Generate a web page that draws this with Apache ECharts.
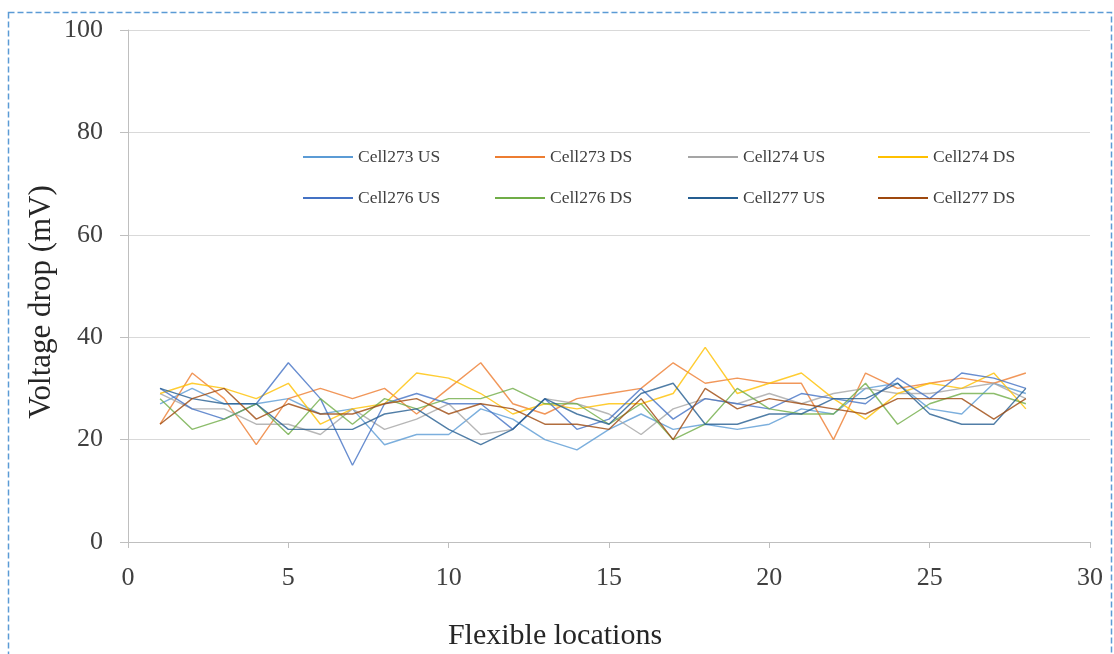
<!DOCTYPE html>
<html>
<head>
<meta charset="utf-8">
<script src="https://cdn.jsdelivr.net/npm/echarts@6/dist/echarts.min.js"></script>
<style>
html,body{margin:0;padding:0;background:#fff;}
#chart{width:1114px;height:654px;}
</style>
</head>
<body>
<div id="chart"></div>
<script>
var locations = [1,2,3,4,5,6,7,8,9,10,11,12,13,14,15,16,17,18,19,20,21,22,23,24,25,26,27,28];
var seriesNames = ['Cell273 US','Cell273 DS','Cell274 US','Cell274 DS','Cell276 US','Cell276 DS','Cell277 US','Cell277 DS'];
var cell273US = [27,30,27,27,28,25,26,19,21,21,26,24,20,18,22,25,22,23,22,23,26,25,30,31,26,25,31,29];
var cell273DS = [23,33,28,19,28,30,28,30,25,30,35,27,25,28,29,30,35,31,32,31,31,20,33,30,31,32,31,33];
var cell274US = [29,26,26,23,23,21,26,22,24,27,21,22,28,27,25,21,26,28,27,29,27,29,30,29,29,30,31,28];
var cell274DS = [29,31,30,28,31,23,26,27,33,32,29,25,27,26,27,27,29,38,29,31,33,28,24,29,31,30,33,26];
var cell276US = [30,26,24,27,35,28,15,27,29,27,27,22,28,22,24,30,24,28,27,26,29,28,27,32,28,33,32,30];
var cell276DS = [28,22,24,27,21,28,23,28,26,28,28,30,27,27,23,27,20,23,30,26,25,25,31,23,27,29,29,27];
var cell277US = [30,28,27,27,22,22,22,25,26,22,19,22,28,25,23,29,31,23,23,25,25,28,28,31,25,23,23,30];
var cell277DS = [23,28,30,24,27,25,25,27,28,25,27,26,23,23,22,28,20,30,26,28,27,26,25,28,28,28,24,28];
var yTicks = [0,20,40,60,80,100];
var xTicks = [0,5,10,15,20,25,30];
var xTitle = 'Flexible locations';
var yTitle = 'Voltage drop (mV)';

var allValues = [cell273US,cell273DS,cell274US,cell274DS,cell276US,cell276DS,cell277US,cell277DS];
var colors = ['#5B9BD5','#ED7D31','#A5A5A5','#FFC000','#4472C4','#70AD47','#255E91','#9E480E'];
var font = '"Liberation Serif","Times New Roman",serif';

var series = seriesNames.map(function(n,i){
  return {
    name:n, type:'line', symbol:'none', showSymbol:false,
    data: locations.map(function(x,j){return [x, allValues[i][j]];}),
    lineStyle:{width:1.4,color:colors[i],opacity:0.8},
    itemStyle:{color:colors[i]},
    emphasis:{disabled:true}, animation:false
  };
});

var legendPos = [[303,148],[495,148],[688,148],[878,148],[303,189],[495,189],[688,189],[878,189]];
var legends = seriesNames.map(function(n,i){
  return {
    data:[n], left:legendPos[i][0], top:legendPos[i][1], padding:0,
    icon:'rect', itemWidth:50, itemHeight:2, itemGap:0,
    textStyle:{fontFamily:font,fontSize:17.5,color:'#404040'},
    selectedMode:false
  };
});

var chart = echarts.init(document.getElementById('chart'));
chart.setOption({
  animation:false,
  backgroundColor:'#fff',
  grid:{left:128,right:24,top:30,bottom:112,containLabel:false},
  legend:legends,
  xAxis:{
    type:'value', min:xTicks[0], max:xTicks[xTicks.length-1], interval:5,
    axisLine:{show:true,lineStyle:{color:'#BFBFBF',width:1}},
    axisTick:{show:true,length:6,lineStyle:{color:'#BFBFBF'}},
    splitLine:{show:false},
    axisLabel:{fontFamily:font,fontSize:26,color:'#404040',margin:23}
  },
  yAxis:{
    type:'value', min:yTicks[0], max:yTicks[yTicks.length-1], interval:20,
    axisLine:{show:true,lineStyle:{color:'#BFBFBF',width:1}},
    axisTick:{show:true,length:8,lineStyle:{color:'#BFBFBF'}},
    splitLine:{show:true,lineStyle:{color:'#D9D9D9',width:1}},
    axisLabel:{fontFamily:font,fontSize:26,color:'#404040',margin:25}
  },
  graphic:[
    {type:'text',x:555,y:636,style:{text:xTitle,font:'30px '+font,fill:'#262626',textAlign:'center',textVerticalAlign:'middle'}},
    {type:'text',x:42,y:302,rotation:Math.PI/2,style:{text:yTitle,font:'31px '+font,fill:'#262626',textAlign:'center',textVerticalAlign:'middle'}},
    {type:'rect',shape:{x:8.5,y:12.5,width:1103,height:700},style:{fill:'none',stroke:'#5B9BD5',lineWidth:1.5,lineDash:[6,3]},z:-1}
  ],
  series:series
});
</script>
</body>
</html>
